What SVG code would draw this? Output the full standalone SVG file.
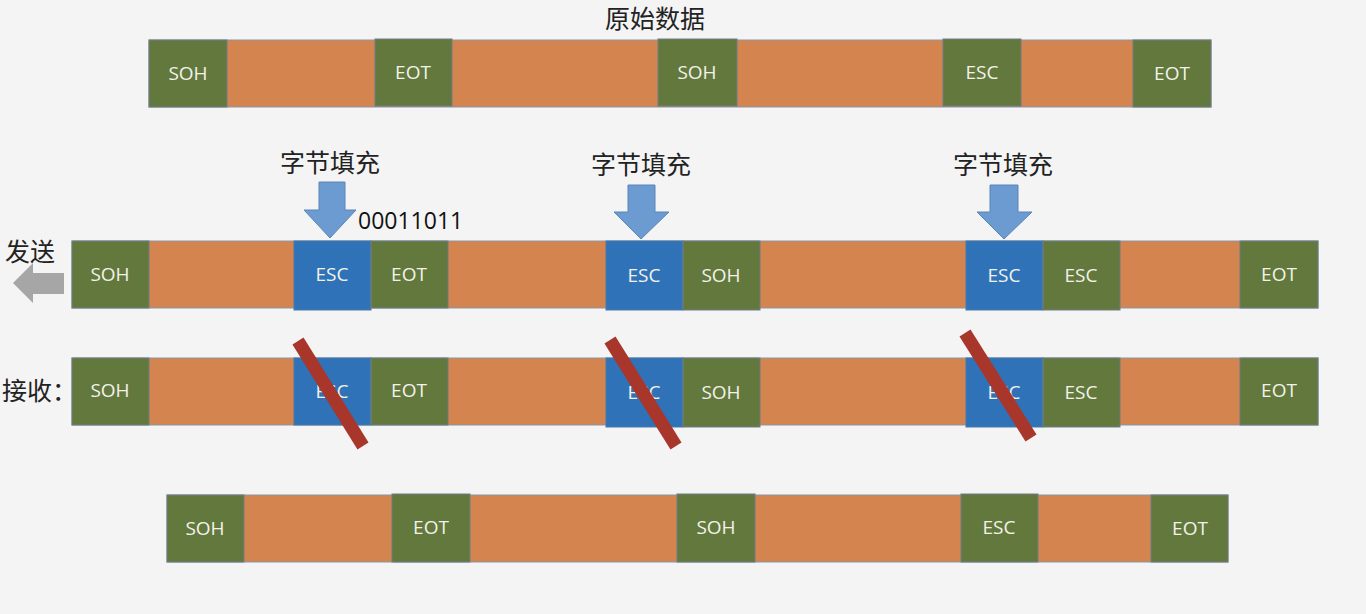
<svg xmlns="http://www.w3.org/2000/svg" width="1366" height="614" viewBox="0 0 1366 614">
<style>
.bar{fill:#d4844e;stroke:#8a96a4;stroke-width:1}
.g{fill:#62783c;stroke:#6f7f88;stroke-width:1}
.b{fill:#3072b8;stroke:#4a78a8;stroke-width:1}
.t{font-family:"Open Sans","Liberation Sans",sans-serif;font-size:19px;fill:#f2f2ea;text-anchor:middle}
.cn{font-family:"Noto Sans CJK SC",sans-serif;font-size:25px;fill:#222}
.arr{fill:#6b9bd1;stroke:#5a86b8;stroke-width:1}
.x{stroke:#a8362b;stroke-width:13;stroke-linecap:butt}
</style>
<rect width="1366" height="614" fill="#f4f4f4"/>
<text class="cn" x="655" y="28" text-anchor="middle" font-size="24">原始数据</text>

<g id="row-original">
<rect class="bar" x="149" y="40" width="1062" height="67"/>
<rect class="g" x="149" y="40" width="78" height="67"/><text class="t" x="188" y="80">SOH</text>
<rect class="g" x="375" y="39" width="77" height="67"/><text class="t" x="413" y="79">EOT</text>
<rect class="g" x="658" y="39" width="79" height="67"/><text class="t" x="697" y="79">SOH</text>
<rect class="g" x="943" y="39" width="78" height="67"/><text class="t" x="982" y="79">ESC</text>
<rect class="g" x="1133" y="40" width="78" height="67"/><text class="t" x="1172" y="80">EOT</text>
</g>

<g id="labels-stuff">
<text class="cn" x="330" y="172" text-anchor="middle">字节填充</text>
<text class="cn" x="641" y="174" text-anchor="middle">字节填充</text>
<text class="cn" x="1003" y="174" text-anchor="middle">字节填充</text>
<text x="358" y="229" font-family="Open Sans,Liberation Sans,sans-serif" font-size="23" fill="#111">00011011</text>
<text class="cn" x="5" y="261">发送</text>
<text class="cn" x="2" y="400">接收：</text>
</g>

<g id="connectors">
<polygon class="arr" points="319,182 345,182 345,210 356,210 330,238 304,210 319,210"/>
<polygon class="arr" points="628,185 655,185 655,212 669,212 641,239 614,212 628,212"/>
<polygon class="arr" points="990,185 1018,185 1018,212 1032,212 1004,239 977,212 990,212"/>
<polygon points="64,273 33,273 33,263 13,283 33,303 33,294 64,294" fill="#a6a6a6"/>
</g>

<g id="row-send">
<rect class="bar" x="72" y="241" width="1246" height="67"/>
<rect class="g" x="72" y="241" width="77" height="67"/><text class="t" x="110" y="281">SOH</text>
<rect class="b" x="294" y="241" width="77" height="69"/><text class="t" x="332" y="281">ESC</text>
<rect class="g" x="371" y="241" width="77" height="67"/><text class="t" x="409" y="281">EOT</text>
<rect class="b" x="606" y="241" width="77" height="69"/><text class="t" x="644" y="282">ESC</text>
<rect class="g" x="683" y="241" width="77" height="69"/><text class="t" x="721" y="282">SOH</text>
<rect class="b" x="966" y="241" width="77" height="69"/><text class="t" x="1004" y="282">ESC</text>
<rect class="g" x="1043" y="241" width="77" height="69"/><text class="t" x="1081" y="282">ESC</text>
<rect class="g" x="1240" y="241" width="78" height="67"/><text class="t" x="1279" y="281">EOT</text>
</g>

<g id="row-receive">
<rect class="bar" x="72" y="358" width="1246" height="67"/>
<rect class="g" x="72" y="358" width="77" height="67"/><text class="t" x="110" y="397">SOH</text>
<rect class="b" x="294" y="358" width="77" height="67"/><text class="t" x="332" y="398">ESC</text>
<rect class="g" x="371" y="358" width="77" height="67"/><text class="t" x="409" y="397">EOT</text>
<rect class="b" x="606" y="358" width="77" height="69"/><text class="t" x="644" y="399">ESC</text>
<rect class="g" x="683" y="358" width="77" height="69"/><text class="t" x="721" y="399">SOH</text>
<rect class="b" x="966" y="358" width="77" height="69"/><text class="t" x="1004" y="399">ESC</text>
<rect class="g" x="1043" y="358" width="77" height="69"/><text class="t" x="1081" y="399">ESC</text>
<rect class="g" x="1240" y="358" width="78" height="67"/><text class="t" x="1279" y="397">EOT</text>
<line class="x" x1="298" y1="341" x2="363" y2="446"/>
<line class="x" x1="610" y1="340" x2="676" y2="446"/>
<line class="x" x1="965" y1="333" x2="1031" y2="438"/>
</g>

<g id="row-result">
<rect class="bar" x="167" y="495" width="1061" height="67"/>
<rect class="g" x="167" y="495" width="77" height="67"/><text class="t" x="205" y="535">SOH</text>
<rect class="g" x="392" y="494" width="78" height="68"/><text class="t" x="431" y="534">EOT</text>
<rect class="g" x="677" y="494" width="78" height="68"/><text class="t" x="716" y="534">SOH</text>
<rect class="g" x="961" y="494" width="77" height="68"/><text class="t" x="999" y="534">ESC</text>
<rect class="g" x="1151" y="495" width="77" height="67"/><text class="t" x="1190" y="535">EOT</text>
</g>
</svg>
